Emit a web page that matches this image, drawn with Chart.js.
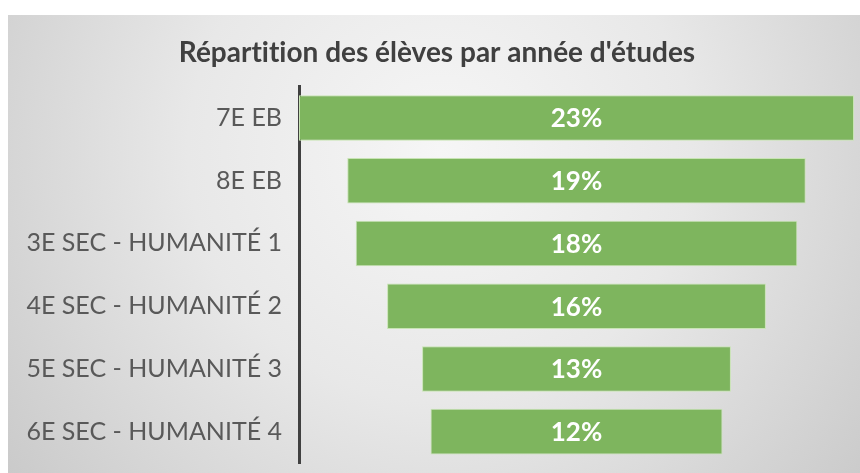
<!DOCTYPE html>
<html>
<head>
<meta charset="utf-8">
<script src="https://cdn.jsdelivr.net/npm/chart.js@4"></script>
<style>
  html, body { margin: 0; padding: 0; background: #ffffff; }
  #wrap { width: 860px; height: 473px; position: relative; }
</style>
</head>
<body>
<div id="wrap"><canvas id="c" width="860" height="473"></canvas></div>
<script>
const chartTitle = "Répartition des élèves par année d'études";
const categories = ["7E EB", "8E EB", "3E SEC - HUMANITÉ 1", "4E SEC - HUMANITÉ 2", "5E SEC - HUMANITÉ 3", "6E SEC - HUMANITÉ 4"];
const shares = [23.0, 19.0, 18.3, 15.7, 12.8, 12.1];
const shareLabels = ["23%", "19%", "18%", "16%", "13%", "12%"];

const FONT = "Lato, 'Open Sans', sans-serif";
const maxShare = Math.max(...shares);
const funnelData = shares.map(v => [(maxShare - v) / 2, (maxShare + v) / 2]);

const backgroundPlugin = {
  id: 'bg',
  afterLayout(chart) {
    // centre the title over the grey panel (x 8..860 with a slight right bias, as in the original)
    if (chart.titleBlock) { chart.titleBlock.left = 20; }
  },
  beforeDraw(chart) {
    const ctx = chart.ctx;
    ctx.textRendering = 'optimizeSpeed';
    ctx.save();
    ctx.fillStyle = '#ffffff';
    ctx.fillRect(0, 0, chart.width, chart.height);
    const x0 = 8, y0 = 15, x1 = chart.width, y1 = chart.height;
    const cx = 440, cy = 150;
    const g = ctx.createRadialGradient(cx, cy, 0, cx, cy, 560);
    g.addColorStop(0, '#f6f6f6');
    g.addColorStop(0.45, '#e8e8e8');
    g.addColorStop(1, '#c8c8c8');
    ctx.fillStyle = g;
    ctx.fillRect(x0, y0, x1 - x0, y1 - y0);
    ctx.restore();
  }
};

const valueLabelPlugin = {
  id: 'valueLabels',
  afterDatasetsDraw(chart) {
    const ctx = chart.ctx;
    const meta = chart.getDatasetMeta(0);
    ctx.save();
    ctx.fillStyle = '#ffffff';
    ctx.font = "bold 26px " + FONT;
    ctx.textAlign = 'center';
    ctx.textBaseline = 'middle';
    meta.data.forEach((bar, i) => {
      const c = bar.getCenterPoint();
      ctx.fillText(shareLabels[i], c.x, c.y + 1);
    });
    ctx.restore();
  }
};

new Chart(document.getElementById('c'), {
  type: 'bar',
  data: {
    labels: categories,
    datasets: [{
      data: funnelData,
      backgroundColor: '#7eb55e',
      borderColor: '#c8e4b4',
      borderWidth: 1,
      borderSkipped: false,
      barPercentage: 0.726,
      categoryPercentage: 1.0
    }]
  },
  options: {
    indexAxis: 'y',
    responsive: false,
    animation: false,
    devicePixelRatio: 1,
    layout: { padding: { left: 0, right: 6, top: 0, bottom: 10 } },
    plugins: {
      legend: { display: false },
      tooltip: { enabled: false },
      title: {
        display: true,
        text: chartTitle,
        color: '#404040',
        font: { family: FONT, size: 28, weight: 'bold', lineHeight: 1.2 },
        padding: { top: 36.5, bottom: 16.5 }
      }
    },
    scales: {
      x: {
        display: false,
        min: 0,
        max: maxShare
      },
      y: {
        position: 'left',
        grid: { display: false, drawTicks: false },
        border: { display: true, color: '#404040', width: 3 },
        ticks: {
          color: '#595959',
          font: { family: FONT, size: 25 },
          padding: 17
        },
        afterFit(scale) {
          scale.width = 299;
          scale.paddingTop = 0;
          scale.paddingBottom = 0;
        }
      }
    }
  },
  plugins: [backgroundPlugin, valueLabelPlugin]
});
</script>
</body>
</html>
